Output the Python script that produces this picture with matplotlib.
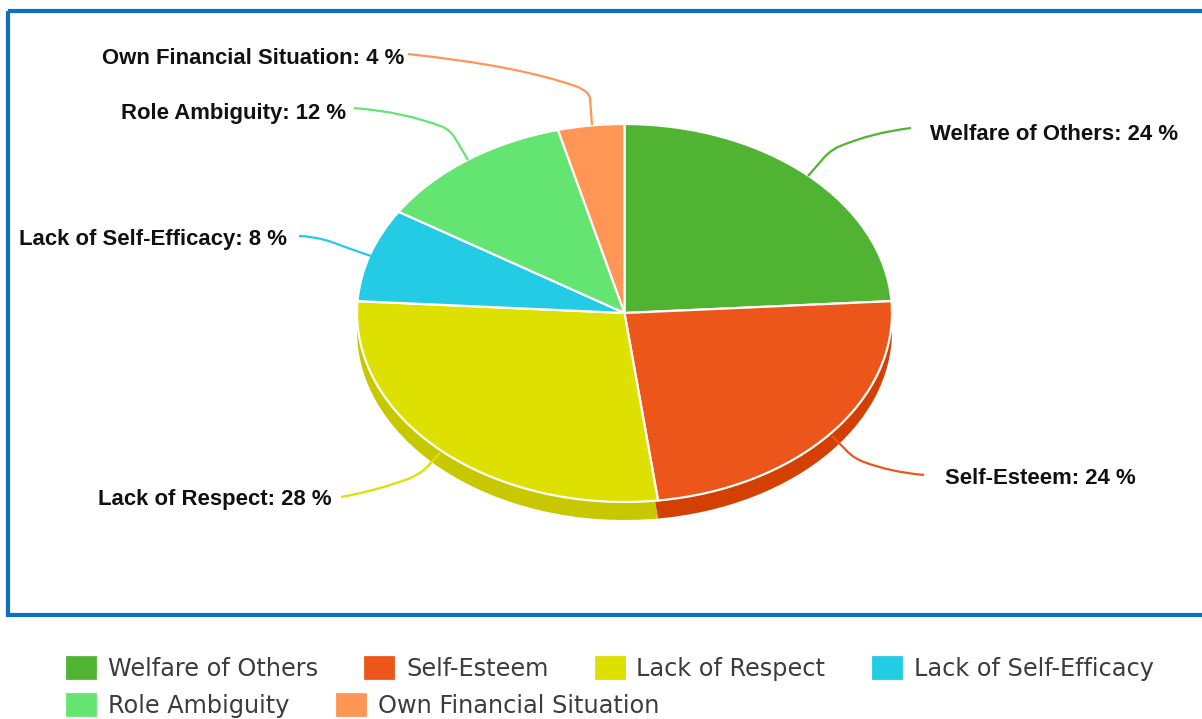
import matplotlib
matplotlib.use("Agg")
import matplotlib.pyplot as plt
from matplotlib.path import Path
from matplotlib.patches import PathPatch, Rectangle

names = ["Welfare of Others", "Self-Esteem", "Lack of Respect",
         "Lack of Self-Efficacy", "Role Ambiguity", "Own Financial Situation"]
values = [24, 24, 28, 8, 12, 4]
colors = ["#50B432", "#ED561B", "#DDE000", "#24CBE5", "#64E572", "#FF9655"]
dark_colors = ["#3E9A22", "#D43F02", "#C8C800", "#0CB2CC", "#4BCC59", "#E67D3C"]

W, H = 1202, 719
CX, CY, RX, RY = 624.5, 313, 267.5, 189
DEPTH = 18

fig = plt.figure(figsize=(W / 100, H / 100), dpi=100)

# pie axes: data units are the pie radius, squashed to an ellipse
ax = fig.add_axes([0, 0, 1, 1])
ax.pie(values, colors=dark_colors, startangle=90, counterclock=False, radius=1,
       center=(0, -DEPTH / RY))
wedges, _ = ax.pie(values, colors=colors, startangle=90, counterclock=False, radius=1,
                   wedgeprops=dict(edgecolor="white", linewidth=1.6))
ax.set_aspect("auto")
ax.set_xlim((0 - CX) / RX, (W - CX) / RX)
ax.set_ylim((CY - H) / RY, CY / RY)
ax.axis("off")

# overlay in image pixels for frame, leaders, labels, legend
ov = fig.add_axes([0, 0, 1, 1], zorder=5)
ov.set_xlim(0, W)
ov.set_ylim(H, 0)
ov.axis("off")
ov.patch.set_alpha(0)

ov.add_patch(Rectangle((8, 11), 1400, 604, fill=False, edgecolor="#0A70C4", linewidth=3))

# start on the pie, short straight run, then two soft curves out to the label
leaders = [
    [(808, 176), (822, 160), (828, 152), (838, 147), (870, 133), (911, 128)],
    [(832, 436), (846, 450), (853, 458), (864, 462), (890, 472), (924, 475)],
    [(440, 453), (426, 468), (420, 474), (408, 479), (375, 491), (341, 497)],
    [(371, 256), (345, 247), (330, 241), (325, 240), (310, 236), (299, 236)],
    [(468, 160), (455, 138), (451, 131), (443, 127), (405, 112), (354, 108)],
    [(592, 125), (590, 98), (589, 92), (578, 87), (520, 66), (408, 54)],
]
label_pos = [(930, 134), (945, 478), (98, 500), (19, 240), (121, 113), (102, 59)]
codes = [Path.MOVETO, Path.LINETO, Path.CURVE3, Path.CURVE3, Path.CURVE3, Path.CURVE3]

for name, val, col, pts, pos in zip(names, values, colors, leaders, label_pos):
    ov.add_patch(PathPatch(Path(pts, codes), fill=False, edgecolor=col, linewidth=1.6))
    ov.text(pos[0], pos[1], f"{name}: {val} %", ha="left", va="center",
            family="Liberation Sans", fontweight="bold", fontsize=15.9, color="#111111")

# two flowing rows in the legend
FS_PX = 24
leg_kw = dict(frameon=False, loc="upper left", bbox_transform=ov.transData, fontsize=FS_PX * 0.72,
              handlelength=33 / FS_PX, handleheight=1.3, handletextpad=10 / FS_PX,
              columnspacing=45 / FS_PX, borderpad=0, borderaxespad=0, labelcolor="#3C3C3C")
leg1 = ov.legend(wedges[:4], names[:4], ncol=4, bbox_to_anchor=(65, 655), **leg_kw)
ov.add_artist(leg1)
leg2 = ov.legend(wedges[4:], names[4:], ncol=2, bbox_to_anchor=(65, 692), **leg_kw)

fig.savefig("out.png", dpi=100)
plt.close(fig)
